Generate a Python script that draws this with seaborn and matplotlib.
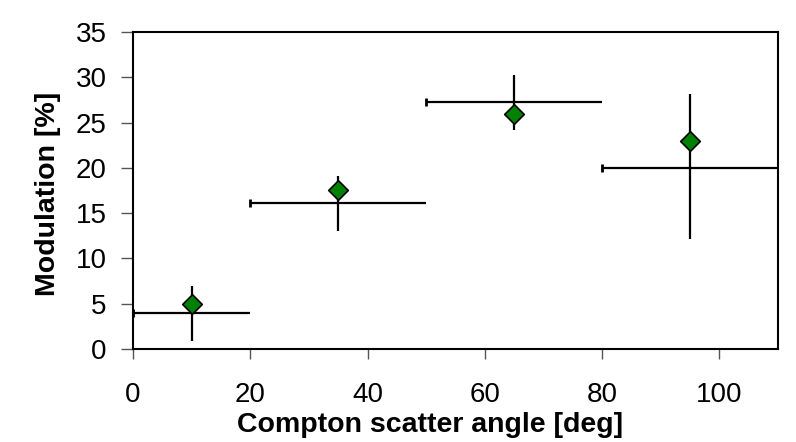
import matplotlib
matplotlib.use("Agg")
import matplotlib.pyplot as plt
import seaborn as sns
import pandas as pd

# Data
angle_center = [10, 35, 65, 95]
modulation = [5.0, 17.6, 26.0, 23.0]
mod_low = [0.9, 13.0, 24.2, 12.1]
mod_high = [7.0, 19.1, 30.3, 28.1]
bin_lo = [0, 20, 50, 80]
bin_hi = [20, 50, 80, 110]
bin_level = [4.0, 16.1, 27.3, 20.0]
x_ticks = [0, 20, 40, 60, 80, 100]
y_ticks = [0, 5, 10, 15, 20, 25, 30, 35]

sns.set_theme(style="white")
plt.rcParams["font.family"] = ["Liberation Sans", "DejaVu Sans"]
plt.rcParams["text.color"] = "black"
plt.rcParams["axes.labelcolor"] = "black"
plt.rcParams["xtick.color"] = "black"
plt.rcParams["ytick.color"] = "black"

fig = plt.figure(figsize=(7.96, 4.42), dpi=100)
ax = fig.add_axes([0.167, 0.2104, 0.8105, 0.7172])

df = pd.DataFrame({"angle": angle_center, "mod": modulation})

# vertical error bars (no caps)
yerr = [[m - lo for m, lo in zip(modulation, mod_low)],
        [hi - m for m, hi in zip(modulation, mod_high)]]
ax.errorbar(angle_center, modulation, yerr=yerr, fmt="none",
            ecolor="black", elinewidth=1.6, capsize=0, zorder=2)

# horizontal bin bars with a cap at the left end
ax.hlines(bin_level, bin_lo, bin_hi, colors="black", linewidth=1.6, zorder=2)
ax.plot(bin_lo, bin_level, linestyle="none", marker="|", markersize=6,
        markeredgewidth=2, color="black", zorder=2, clip_on=False)

sns.scatterplot(data=df, x="angle", y="mod", marker="D", s=100,
                color="#008000", edgecolor="black", linewidth=1.2,
                ax=ax, zorder=3, legend=False)

ax.set_xlim(0, 110)
ax.set_ylim(0, 35)
ax.set_xticks(x_ticks)
ax.set_yticks(y_ticks)
ax.tick_params(axis="both", which="major", direction="out", length=8,
               width=1, color="#555555", labelsize=20, labelcolor="black",
               left=True, bottom=True)
ax.tick_params(axis="y", pad=10, length=9)
ax.tick_params(axis="x", pad=17, length=7)
for s in ax.spines.values():
    s.set_color("black")
    s.set_linewidth(1.5)

ax.set_xlabel("Compton scatter angle [deg]", fontsize=20.5, fontweight="bold",
              color="black")
ax.set_ylabel("Modulation [%]", fontsize=20.5, fontweight="bold",
              color="black")
ax.xaxis.set_label_coords(0.46, -0.198, transform=ax.transAxes)
ax.xaxis.label.set_verticalalignment("top")
ax.yaxis.set_label_coords(-0.131, 0.49, transform=ax.transAxes)
ax.yaxis.label.set_verticalalignment("center")

fig.savefig("out.png", dpi=100)
